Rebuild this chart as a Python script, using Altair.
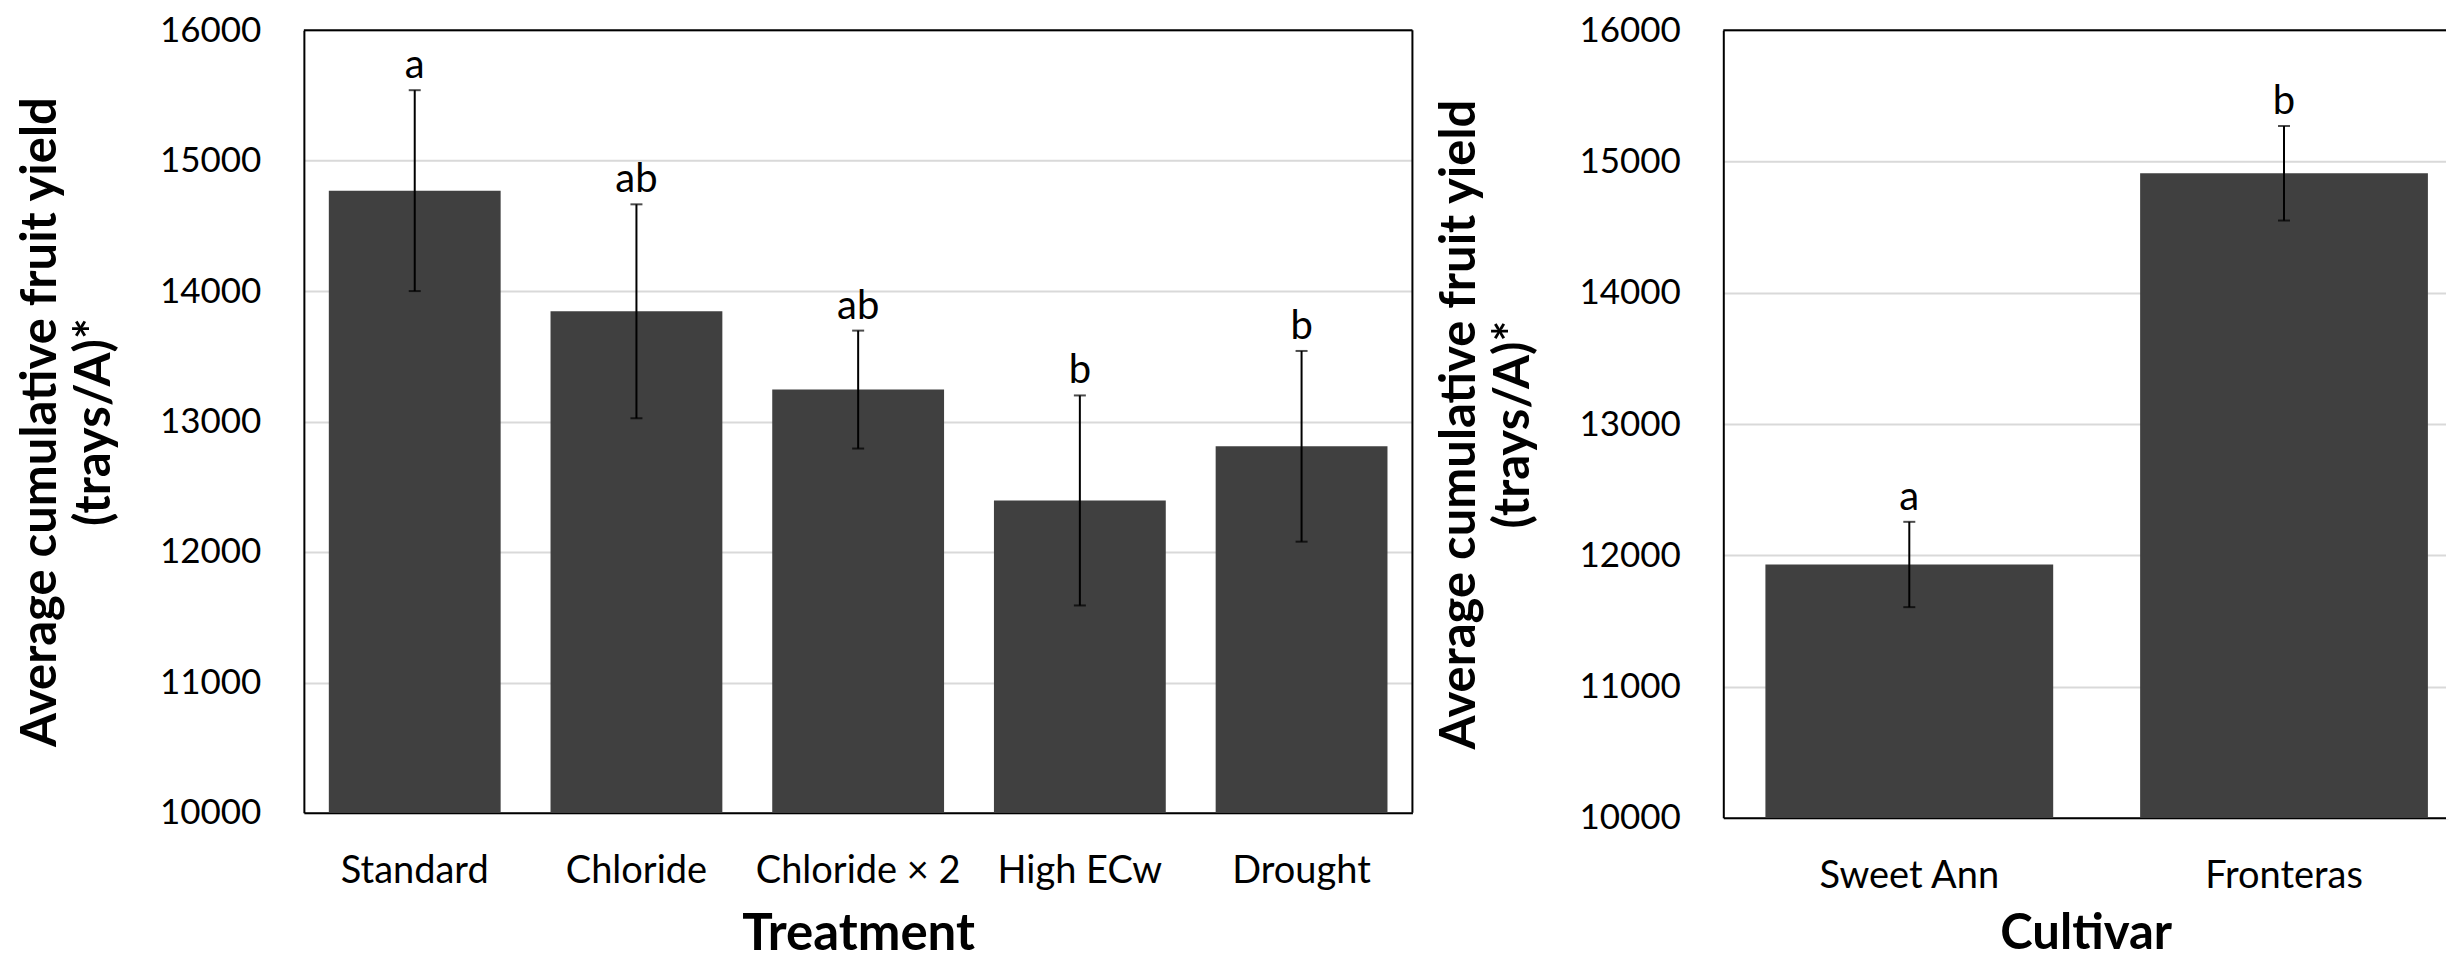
import altair as alt
import pandas as pd

# ---- data ----
treatments = ["Standard", "Chloride", "Chloride × 2", "High ECw", "Drought"]
treatment_yield = [14770, 13845, 13245, 12395, 12810]
treatment_err = [770, 820, 452, 805, 731]
treatment_letters = ["a", "ab", "ab", "b", "b"]

cultivars = ["Sweet Ann", "Fronteras"]
cultivar_yield = [11930, 14910]
cultivar_err = [325, 360]
cultivar_letters = ["a", "b"]

y_ticks = [10000, 11000, 12000, 13000, 14000, 15000, 16000]
y_title = ["Average cumulative fruit yield", "(trays/A)*"]

FONT = "Lato"
BAR = "#404040"
GRID = "#d9d9d9"


def panel(cats, vals, errs, letters, xtitle, xtitle_size, xtitle_pad,
          width, height, xscale, right_edge):
    df = pd.DataFrame({"cat": cats, "val": vals, "err": errs, "letter": letters})
    base = alt.Chart(df).transform_calculate(
        lo="datum.val - datum.err", hi="datum.val + datum.err"
    )
    x = alt.X(
        "cat:N",
        sort=cats,
        scale=xscale,
        axis=alt.Axis(
            orient="bottom",
            zindex=0,
            title=xtitle,
            labelAngle=0,
            labelFontSize=38,
            labelColor="black",
            labelPadding=40,
            labelLimit=0,
            ticks=False,
            tickSize=0,
            grid=False,
            domain=True,
            domainColor="black",
            domainWidth=2,
            titleFontSize=xtitle_size,
            titleFontWeight="bold",
            titleColor="black",
            titlePadding=xtitle_pad,
        ),
    )
    yscale = alt.Scale(domain=[10000, 16000], nice=False, zero=False)
    yaxis = alt.Axis(
        orient="left",
        zindex=0,
        title=y_title,
        values=y_ticks,
        format="d",
        labelFontSize=35,
        labelColor="black",
        labelPadding=43,
        labelLimit=0,
        ticks=False,
        tickSize=0,
        domain=True,
        domainColor="black",
        domainWidth=2,
        grid=True,
        gridColor=GRID,
        gridWidth=2,
        titleFontSize=49,
        titleFontWeight="bold",
        titleColor="black",
        titlePadding=40,
        titleLineHeight=54,
    )
    bars = base.mark_bar(color=BAR).encode(
        x=x,
        y=alt.Y("val:Q", scale=yscale, axis=yaxis),
        y2=alt.datum(10000),
    )
    stem = base.mark_rule(color="black", strokeWidth=2).encode(
        x=x, y=alt.Y("lo:Q", scale=yscale, axis=yaxis), y2="hi:Q"
    )
    cap_lo = base.mark_tick(color="black", thickness=2, size=12).encode(
        x=x, y=alt.Y("lo:Q", scale=yscale, axis=yaxis)
    )
    cap_hi = base.mark_tick(color="black", thickness=2, size=12).encode(
        x=x, y=alt.Y("hi:Q", scale=yscale, axis=yaxis)
    )
    label = base.mark_text(
        fontSize=40, color="black", baseline="alphabetic", dy=-12
    ).encode(x=x, y=alt.Y("hi:Q", scale=yscale, axis=yaxis), text="letter:N")
    frame_df = pd.DataFrame({"edge": [16000]})
    top = alt.Chart(frame_df).mark_rule(color="black", strokeWidth=2).encode(
        y=alt.Y("edge:Q", scale=yscale, axis=yaxis)
    )
    layers = [bars, stem, cap_lo, cap_hi, label, top]
    if right_edge:
        side = alt.Chart(frame_df).mark_rule(color="black", strokeWidth=2).encode(
            x=alt.value(width), y=alt.value(0), y2=alt.value(height)
        )
    else:
        # the reference's frame runs on past the picture's right edge:
        # keep its right side out of sight
        side = alt.Chart(frame_df).mark_rule(color="white", strokeWidth=4).encode(
            x=alt.value(width), y=alt.value(-2), y2=alt.value(height + 2)
        )
    layers.append(side)
    return (
        alt.layer(*layers)
        .properties(
            width=width,
            height=height,
            view=alt.ViewBackground(strokeWidth=0, strokeOpacity=0),
        )
    )


left = panel(
    treatments, treatment_yield, treatment_err, treatment_letters,
    "Treatment", 51, 19,
    1109, 783,
    alt.Scale(paddingInner=0.225, paddingOuter=0.1125),
    True,
)
right = panel(
    cultivars, cultivar_yield, cultivar_err, cultivar_letters,
    "Cultivar", 49, 14,
    725, 788,
    alt.Scale(paddingInner=0.232, paddingOuter=0.083, align=0.677),
    False,
)

chart = (
    alt.hconcat(left, right, spacing=22)
    .properties(padding={"left": 8, "top": 5, "right": 0, "bottom": 0})
    .configure(font=FONT)
    .configure_view(stroke=None)
)

chart.save("out.html", embed_options={"renderer": "svg", "actions": False})
